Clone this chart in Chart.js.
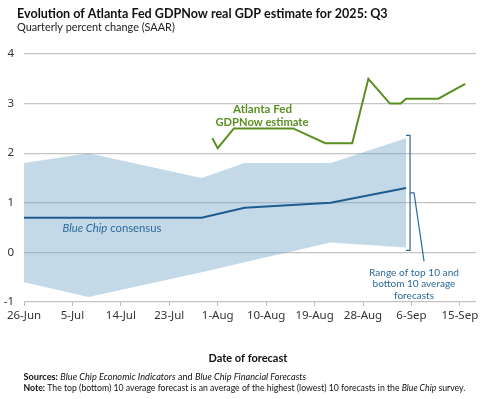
<!DOCTYPE html>
<html>
<head>
<meta charset="utf-8">
<style>
  html, body { margin: 0; padding: 0; background: #fff; }
  #chart { display: block; }
</style>
<script src="https://cdn.jsdelivr.net/npm/chart.js@4/dist/chart.umd.min.js"></script>
</head>
<body>
<canvas id="chart" width="500" height="399"></canvas>
<script>
// Data (x = days since 26-Jun)
var tickDays   = [0, 9, 18, 27, 36, 45, 54, 63, 72, 81];
var tickLabels = ['26-Jun', '5-Jul', '14-Jul', '23-Jul', '1-Aug', '10-Aug', '19-Aug', '28-Aug', '6-Sep', '15-Sep'];
var yTicks     = [-1, 0, 1, 2, 3, 4];

var gdpNowDays   = [35, 36, 39, 50, 56, 61, 64, 68, 70, 71, 77, 82];
var gdpNowValues = [2.3, 2.1, 2.5, 2.5, 2.2, 2.2, 3.5, 3.0, 3.0, 3.1, 3.1, 3.4];

var blueChipDays = [0, 12, 33, 41, 57, 71];
var consensus    = [0.7, 0.7, 0.7, 0.9, 1.0, 1.3];
var top10        = [1.8, 2.0, 1.5, 1.8, 1.8, 2.3];
var bottom10     = [-0.6, -0.9, -0.4, -0.2, 0.2, 0.1];

var FONT  = 'Lato, "Noto Sans", sans-serif';
var TICKFONT = '"Noto Sans", "DejaVu Sans", sans-serif';
var GREEN = '#5a8f22';
var BLUE  = '#1d5c91';
var TEXTBLUE = '#2b6a9b';

function pts(xs, ys) {
    return xs.map(function (x, i) { return { x: x, y: ys[i] }; });
}

// draw a row of text runs with mixed styles, scaled to a target width
function drawRuns(ctx, runs, x, y, target, color, align) {
    var total = 0;
    runs.forEach(function (r) {
        ctx.font = r.s + ' 20px ' + FONT;
        total += ctx.measureText(r.t).width;
    });
    var size = 20 * target / total;
    var cx = align === 'center' ? x - target / 2 : x;
    ctx.fillStyle = color;
    ctx.textBaseline = 'middle';
    ctx.textAlign = 'left';
    runs.forEach(function (r) {
        ctx.font = r.s + ' ' + size + 'px ' + FONT;
        ctx.fillText(r.t, cx, y);
        cx += ctx.measureText(r.t).width;
    });
}

var annotations = {
    id: 'annotations',
    afterDraw: function (chart) {
        var ctx = chart.ctx;
        var xs = chart.scales.x, ys = chart.scales.y;
        ctx.save();

        drawRuns(ctx, [{ t: 'Evolution of Atlanta Fed GDPNow real GDP estimate for 2025: Q3', s: 'bold' }], 17, 14, 371, '#111');
        drawRuns(ctx, [{ t: 'Quarterly percent change (SAAR)', s: '' }], 17, 27.5, 158, '#222');

        // series labels
        drawRuns(ctx, [{ t: 'Atlanta Fed', s: 'bold' }], 262.5, 109, 59, GREEN, 'center');
        drawRuns(ctx, [{ t: 'GDPNow estimate', s: 'bold' }], 262, 122.5, 93, GREEN, 'center');
        drawRuns(ctx, [{ t: 'Blue Chip', s: 'italic' }, { t: ' consensus', s: '' }], 62.5, 228.5, 99, TEXTBLUE);

        // bracket for the top/bottom 10 range
        var last = blueChipDays.length - 1;
        var bx = xs.getPixelForValue(blueChipDays[last]) + 4;
        var top = ys.getPixelForValue(top10[last]) - 3;
        var bot = ys.getPixelForValue(bottom10[last]) + 3;
        var mid = (top + bot) / 2;
        ctx.strokeStyle = TEXTBLUE;
        ctx.lineWidth = 1.2;
        ctx.beginPath();
        ctx.moveTo(bx - 4, top);
        ctx.lineTo(bx, top);
        ctx.lineTo(bx, bot);
        ctx.lineTo(bx - 4, bot);
        ctx.moveTo(bx, mid);
        ctx.lineTo(bx + 4, mid);
        ctx.lineTo(bx + 14, bot + 11);
        ctx.stroke();

        drawRuns(ctx, [{ t: 'Range of top 10 and', s: '' }], bx + 4, bot + 22, 90, TEXTBLUE, 'center');
        drawRuns(ctx, [{ t: 'bottom 10 average', s: '' }], bx + 4, bot + 33.5, 83, TEXTBLUE, 'center');
        drawRuns(ctx, [{ t: 'forecasts', s: '' }], bx + 4, bot + 45, 40, TEXTBLUE, 'center');

        // axis title and notes
        drawRuns(ctx, [{ t: 'Date of forecast', s: 'bold' }], 248, 358.5, 79, '#111', 'center');
        drawRuns(ctx, [
            { t: 'Sources:', s: 'bold' },
            { t: ' ', s: '' },
            { t: 'Blue Chip Economic Indicators', s: 'italic' },
            { t: ' and ', s: '' },
            { t: 'Blue Chip Financial Forecasts', s: 'italic' }
        ], 23.5, 377, 283, '#111');
        drawRuns(ctx, [
            { t: 'Note:', s: 'bold' },
            { t: ' The top (bottom) 10 average forecast is an average of the highest (lowest) 10 forecasts in the ', s: '' },
            { t: 'Blue Chip', s: 'italic' },
            { t: ' survey.', s: '' }
        ], 23.5, 388, 442, '#111');

        ctx.restore();
    }
};

new Chart(document.getElementById('chart'), {
    type: 'line',
    data: {
        datasets: [
            {
                label: 'GDPNow',
                data: pts(gdpNowDays, gdpNowValues),
                borderColor: GREEN,
                borderWidth: 2,
                pointRadius: 0,
                fill: false,
            },
            {
                label: 'Blue Chip consensus',
                data: pts(blueChipDays, consensus),
                borderColor: BLUE,
                borderWidth: 2,
                pointRadius: 0,
                fill: false,
            },
            {
                label: 'Top 10',
                data: pts(blueChipDays, top10),
                borderWidth: 0,
                borderColor: 'rgba(0,0,0,0)',
                backgroundColor: 'rgba(124,171,204,0.45)',
                pointRadius: 0,
                fill: '+1',
            },
            {
                label: 'Bottom 10',
                data: pts(blueChipDays, bottom10),
                borderWidth: 0,
                borderColor: 'rgba(0,0,0,0)',
                pointRadius: 0,
                fill: false,
            },
        ],
    },
    options: {
        responsive: false,
        animation: false,
        devicePixelRatio: 1,
        layout: { padding: { top: 54, right: 24, left: 0, bottom: 0 } },
        plugins: {
            legend: { display: false },
            tooltip: { enabled: false },
        },
        scales: {
            x: {
                type: 'linear',
                min: 0,
                max: 84,
                afterFit: function (scale) { scale.height = 97; },
                afterBuildTicks: function (scale) {
                    scale.ticks = tickDays.map(function (d) { return { value: d }; });
                },
                ticks: {
                    color: '#333',
                    font: { family: TICKFONT, size: 11.5 },
                    padding: 3,
                    maxRotation: 0,
                    autoSkip: false,
                    callback: function (v) { return tickLabels[tickDays.indexOf(v)]; },
                },
                grid: {
                    drawOnChartArea: false,
                    drawTicks: true,
                    tickLength: 4,
                    color: '#bdbdbd',
                },
                border: { display: false },
            },
            y: {
                min: -1,
                max: 4,
                afterFit: function (scale) { scale.width = 24; },
                afterBuildTicks: function (scale) {
                    scale.ticks = yTicks.map(function (v) { return { value: v }; });
                },
                ticks: {
                    color: '#333',
                    font: { family: TICKFONT, size: 11.5 },
                    padding: 10,
                },
                grid: {
                    color: '#c4c4c4',
                    lineWidth: 1.3,
                    drawTicks: false,
                },
                border: { display: false },
            },
        },
    },
    plugins: [annotations],
});
</script>
</body>
</html>
